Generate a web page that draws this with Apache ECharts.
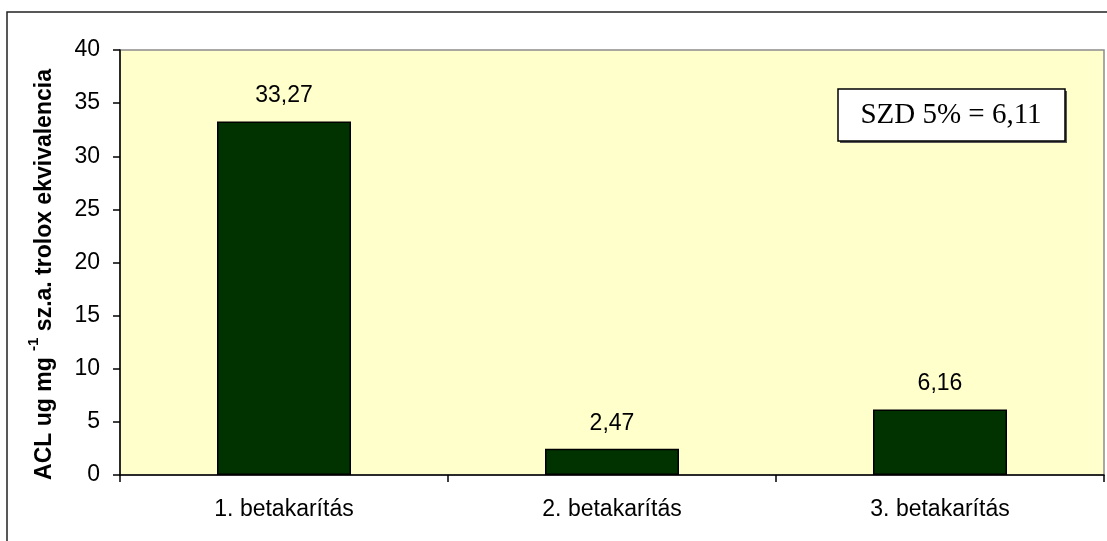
<!DOCTYPE html>
<html>
<head>
<meta charset="utf-8">
<script src="https://cdn.jsdelivr.net/npm/echarts@6/dist/echarts.min.js"></script>
<style>html,body{margin:0;padding:0;background:#fff;}#c{width:1107px;height:541px;}</style>
</head>
<body>
<div id="c"></div>
<script>
const categories = ['1. betakarítás', '2. betakarítás', '3. betakarítás'];
const values = [33.27, 2.47, 6.16];
const yTicks = { min: 0, max: 40, interval: 5 };
const annotation = 'SZD 5% = 6,11';

const chart = echarts.init(document.getElementById('c'), null, { renderer: 'canvas' });
const font = '"Liberation Sans", Arial, sans-serif';
chart.setOption({
  animation: false,
  backgroundColor: '#ffffff',
  grid: {
    left: 120, right: 3, top: 50, bottom: 66,
    show: true, backgroundColor: '#FFFFCC', borderColor: '#8c8c8c', borderWidth: 1.5
  },
  xAxis: {
    type: 'category',
    data: categories,
    axisLine: { lineStyle: { color: '#000', width: 1.5 } },
    axisTick: { show: true, length: 7, lineStyle: { color: '#000', width: 1.5 } },
    axisLabel: { color: '#000', fontFamily: font, fontSize: 23, margin: 23, interval: 0 }
  },
  yAxis: {
    type: 'value',
    min: yTicks.min, max: yTicks.max, interval: yTicks.interval,
    splitLine: { show: false },
    axisLine: { show: true, lineStyle: { color: '#000', width: 1.5 } },
    axisTick: { show: true, length: 7, lineStyle: { color: '#000', width: 1.5 } },
    axisLabel: { color: '#000', fontFamily: font, fontSize: 23, margin: 20 },
    name: '{m|ACL ug mg }{s|-1}{m| sz.a. trolox ekvivalencia}',
    nameLocation: 'middle',
    nameGap: 64,
    nameRotate: 90,
    nameTextStyle: {
      padding: [0, 0, 0, -24],
      rich: {
        m: { fontFamily: font, fontWeight: 'bold', fontSize: 23, color: '#000', lineHeight: 30, verticalAlign: 'bottom' },
        s: { fontFamily: font, fontWeight: 'bold', fontSize: 15, color: '#000', lineHeight: 30, verticalAlign: 'top' }
      }
    }
  },
  series: [{
    type: 'bar',
    data: values,
    barWidth: 134,
    itemStyle: { color: '#003300', borderColor: '#000', borderWidth: 1.5 },
    label: {
      show: true, position: 'top', distance: 14,
      color: '#000', fontFamily: font, fontSize: 23,
      formatter: p => p.value.toFixed(2).replace('.', ',')
    }
  }],
  graphic: [
    { type: 'rect', shape: { x: 7, y: 12, width: 1300, height: 700 }, style: { fill: 'none', stroke: '#222', lineWidth: 1.5 }, silent: true },
    { type: 'rect', shape: { x: 840, y: 91, width: 227, height: 52 }, style: { fill: '#555' }, silent: true },
    { type: 'rect', shape: { x: 838, y: 89, width: 227, height: 52 }, style: { fill: '#fff', stroke: '#000', lineWidth: 1.5 }, silent: true },
    { type: 'text', x: 951, y: 115, style: { text: annotation, fill: '#000', font: '29px "Liberation Serif", "Times New Roman", serif', textAlign: 'center', textVerticalAlign: 'middle' }, silent: true }
  ]
});
</script>
</body>
</html>
